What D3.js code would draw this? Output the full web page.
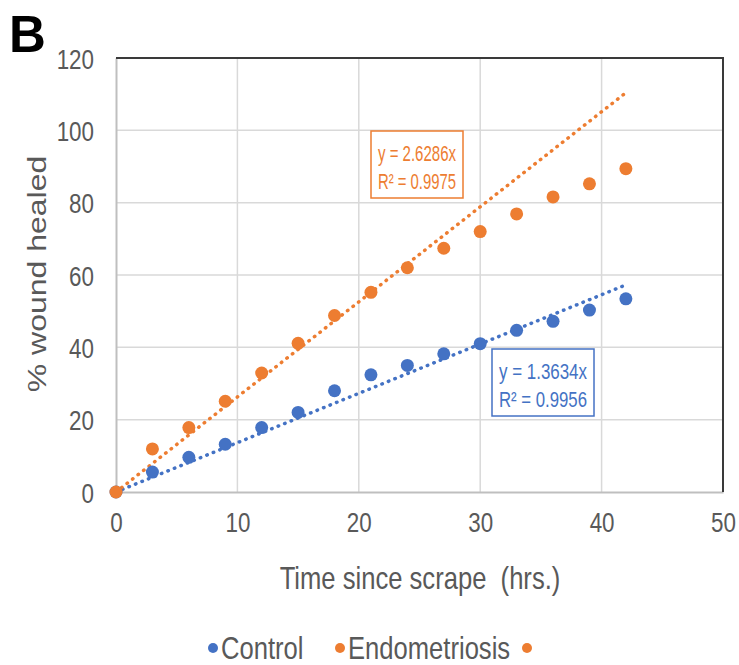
<!DOCTYPE html>
<html>
<head>
<meta charset="utf-8">
<script src="https://cdn.jsdelivr.net/npm/d3@7"></script>
<style>
  body { margin: 0; background: #fff; }
  svg text { font-family: "Liberation Sans", Arial, sans-serif; }
</style>
</head>
<body>
<div id="chart"></div>
<script>
// data
var hours = [0, 3, 6, 9, 12, 15, 18, 21, 24, 27, 30, 33, 36, 39, 42];
var control = [0, 5.5, 9.6, 13.2, 17.8, 22, 28, 32.4, 35, 38.2, 41, 44.7, 47.2, 50.3, 53.4];
var endo = [0, 11.9, 17.8, 25.1, 32.9, 41.1, 48.8, 55.2, 62, 67.4, 72, 76.9, 81.6, 85.2, 89.4];
var slopes = [1.3634, 2.6286];
var fitLabels = [["y = 1.3634x", "R\u00b2 = 0.9956"], ["y = 2.6286x", "R\u00b2 = 0.9975"]];
var seriesNames = ["Control", "Endometriosis", ""];
var xTicks = [0, 10, 20, 30, 40, 50];
var yTicks = [0, 20, 40, 60, 80, 100, 120];

const W = 739, H = 665,
  LEFT = 116, RIGHT = 723, TOP = 58, BOTTOM = 492,
  SQ = 0.8, // the picture is squeezed sideways, text too
  BLUE = "#4472C4", ORANGE = "#ED7D31", GREY = "#595959";
var colors = [BLUE, ORANGE, ORANGE];

var svg = d3.select("#chart").append("svg")
  .attr("width", W).attr("height", H);

var x = d3.scaleLinear().domain([0, 50]).range([LEFT, RIGHT]);
var y = d3.scaleLinear().domain([0, 120]).range([BOTTOM, TOP]);

// text placed at (px,py), squeezed horizontally
function label(parent, px, py, txt, size, fill, anchor, rot) {
  return parent.append("text")
    .attr("transform", "translate(" + px + "," + py + ") scale(" + SQ + ",1)" + (rot ? " rotate(" + rot + ")" : ""))
    .attr("text-anchor", anchor || "start")
    .attr("fill", fill).style("font-size", size + "px")
    .text(txt);
}

// gridlines
svg.append("g").selectAll("line").data(yTicks.slice(1)).enter().append("line")
  .attr("x1", LEFT).attr("x2", RIGHT)
  .attr("y1", d => y(d)).attr("y2", d => y(d))
  .attr("stroke", "#d9d9d9").attr("stroke-width", 1.5);
svg.append("g").selectAll("line").data(xTicks.slice(1)).enter().append("line")
  .attr("x1", d => x(d)).attr("x2", d => x(d))
  .attr("y1", TOP).attr("y2", BOTTOM)
  .attr("stroke", "#d9d9d9").attr("stroke-width", 1.5);

// axes
var xAxis = d3.axisBottom(x).tickValues(xTicks).tickSize(0).tickPadding(22);
var yAxis = d3.axisLeft(y).tickValues(yTicks).tickSize(0).tickPadding(22);
var gx = svg.append("g").attr("transform", "translate(0," + BOTTOM + ")").call(xAxis);
var gy = svg.append("g").attr("transform", "translate(" + LEFT + ",0)").call(yAxis);
[gx, gy].forEach(function(g) {
  g.select(".domain").attr("stroke", "#bfbfbf").attr("stroke-width", 2);
  g.selectAll("text").attr("fill", GREY)
    .style("font-family", "'Liberation Sans', Arial, sans-serif")
    .style("font-size", "28px")
    .attr("transform", "scale(" + SQ + ",1)");
});
gy.selectAll("text").attr("x", -22 / SQ).attr("dy", "0.36em");
gx.selectAll("text").attr("y", 20);

// dark top and right border
svg.append("path")
  .attr("d", "M" + LEFT + "," + TOP + "H" + RIGHT + "V" + BOTTOM)
  .attr("fill", "none").attr("stroke", "#3a3a3a").attr("stroke-width", 2);

// trendlines
slopes.forEach(function(m, i) {
  svg.append("line")
    .attr("x1", x(0)).attr("y1", y(0))
    .attr("x2", x(42)).attr("y2", y(m * 42))
    .attr("stroke", colors[i]).attr("stroke-width", 3.5)
    .attr("stroke-linecap", "round")
    .attr("stroke-dasharray", "0.5 6.5");
});

// points
[control, endo].forEach(function(vals, i) {
  svg.append("g").selectAll("circle").data(vals).enter().append("circle")
    .attr("cx", (d, j) => x(hours[j]))
    .attr("cy", d => y(d))
    .attr("r", 6.5)
    .attr("fill", colors[i]);
});

// fit labels
var boxes = [{x: 492, y: 349, w: 102, h: 67}, {x: 371, y: 131, w: 92, h: 67}];
fitLabels.forEach(function(lines, i) {
  var b = boxes[i];
  var g = svg.append("g");
  g.append("rect").attr("x", b.x).attr("y", b.y).attr("width", b.w).attr("height", b.h)
    .attr("fill", "#fff").attr("stroke", colors[i]).attr("stroke-width", 1.5);
  lines.forEach(function(t, k) {
    label(g, b.x + b.w / 2, b.y + 30 + k * 28, t, 22, colors[i], "middle")
      .attr("textLength", (b.w - 14) / SQ).attr("lengthAdjust", "spacingAndGlyphs");
  });
});

// axis titles
label(svg, 420, 589, "Time since scrape  (hrs.)", 32, GREY, "middle").style("white-space", "pre");
label(svg, 46, 274, "% wound healed", 32, GREY, "middle", -90);

// panel letter
svg.append("text").attr("x", 9).attr("y", 52)
  .style("font-weight", "bold").style("font-size", "51px").attr("fill", "#000")
  .text("B");

// legend
var legX = [213, 340, 527];
var leg = svg.append("g").selectAll("g").data(seriesNames).enter().append("g")
  .attr("transform", (d, i) => "translate(" + legX[i] + ",648)");
leg.append("circle").attr("r", 5).attr("fill", (d, i) => colors[i]);
leg.each(function(d) {
  label(d3.select(this), 8, 11, d, 32, GREY, "start");
});
</script>
</body>
</html>
